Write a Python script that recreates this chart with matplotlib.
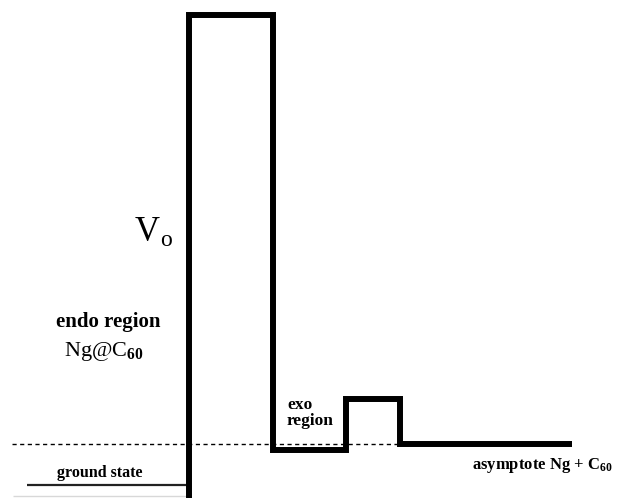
import matplotlib
matplotlib.use("Agg")
import matplotlib.pyplot as plt

plt.rcParams['mathtext.fontset'] = 'custom'
plt.rcParams['mathtext.rm'] = 'Liberation Serif'
plt.rcParams['mathtext.bf'] = 'Liberation Serif:bold'
plt.rcParams['mathtext.it'] = 'Liberation Serif:italic'

# Potential profile (x = distance in px-like units, E = energy relative to asymptote)
wall_x = [189, 189, 273, 273, 346, 346, 400, 400, 572]
wall_E = [-60, 430, 430, -5, -5, 46, 46, 1, 1]

ground_x = [27, 186]
ground_E = [-40, -40]

asym_x = [12, 400]
asym_E = [1, 1]

base_x = [13, 186]
base_E = [-51, -51]

fig = plt.figure(figsize=(6.19, 4.98), dpi=100)
ax = fig.add_axes([0, 0, 1, 1])
ax.set_xlim(0, 619)
ax.set_ylim(-53, 445)
ax.axis('off')

ax.plot(base_x, base_E, color='#d8d8d8', lw=1.0, solid_capstyle='butt')
ax.plot(asym_x, asym_E, color='black', lw=1.0, linestyle=(0, (3, 2.5)))
ax.plot(ground_x, ground_E, color='#222222', lw=1.6, solid_capstyle='butt')
ax.plot(wall_x, wall_E, color='black', lw=4.3, solid_joinstyle='miter',
        solid_capstyle='butt')

serif = 'Liberation Serif'
ax.text(135, 445 - 232, r'V', fontsize=25, family=serif, ha='left', va='center')
ax.text(160, 445 - 240, r'o', fontsize=17, family=serif, ha='left', va='center')
ax.text(108, 445 - 322, 'endo region', fontsize=15, family=serif,
        fontweight='bold', ha='center', va='center')
ax.text(104, 445 - 351, r'Ng@C$_{\mathbf{60}}$', fontsize=16, family=serif,
        ha='center', va='center')
ax.text(100, 445 - 473, 'ground state', fontsize=11.5, family=serif,
        fontweight='bold', ha='center', va='center')
ax.text(287, 445 - 413, 'exo\nregion', fontsize=12.5, family=serif,
        fontweight='bold', ha='left', va='center', linespacing=1.0)
ax.text(472, 445 - 465, r'asymptote Ng + C$_{\mathbf{60}}$', fontsize=12,
        family=serif, fontweight='bold', ha='left', va='center')

fig.savefig('out.png', dpi=100, facecolor='white')
